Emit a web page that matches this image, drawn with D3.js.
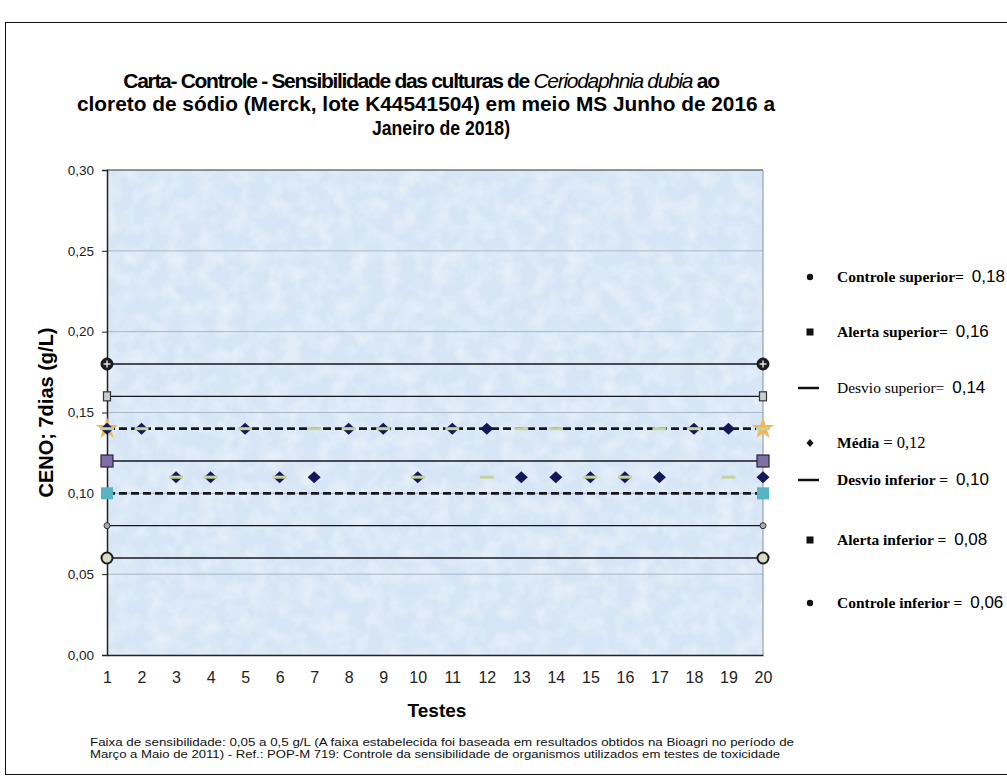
<!DOCTYPE html>
<html lang="pt">

<head>
    <meta charset="UTF-8">
    <title>Carta-Controle</title>
    <script src="https://cdn.jsdelivr.net/npm/d3@7"></script>

    <style>
        body { margin: 0; background: #fff; }
        svg { display: block; }
        .axis text { font-family: Arial, "Liberation Sans", sans-serif; fill: #222; }
        .axis path, .axis line { stroke: #222; }
    </style>
</head>

<body>

    <svg width="1007" height="778"></svg>

    <script>

        // dados
        var testes = [1, 2, 3, 4, 5, 6, 7, 8, 9, 10, 11, 12, 13, 14, 15, 16, 17, 18, 19, 20];
        var ceno = [0.14, 0.14, 0.11, 0.11, 0.14, 0.11, 0.11, 0.14, 0.14, 0.11,
                    0.14, 0.14, 0.11, 0.11, 0.11, 0.11, 0.11, 0.14, 0.14, 0.11];
        var cenoAnterior = [0.14, 0.14, 0.11, 0.11, 0.14, 0.11, 0.14, 0.14, 0.14, 0.11,
                            0.14, 0.11, 0.14, 0.14, 0.11, 0.11, 0.14, 0.14, 0.11, 0.14];
        var limiteNomes = ["Controle superior", "Alerta superior", "Desvio superior", "Média",
                           "Desvio inferior", "Alerta inferior", "Controle inferior"];
        var limiteValores = [0.18, 0.16, 0.14, 0.12, 0.10, 0.08, 0.06];
        var yTicks = [0, 0.05, 0.10, 0.15, 0.20, 0.25, 0.30];

        var svg = d3.select("svg");

        var x = d3.scaleLinear().domain([1, 20]).range([107, 763]);
        var y = d3.scaleLinear().domain([0, 0.30]).range([655, 170]);
        var fmt = function(v) { return d3.format(".2f")(v).replace(".", ","); };

        // moldura externa
        svg.append("rect")
            .attr("x", 5.5).attr("y", 22.5)
            .attr("width", 1010).attr("height", 752)
            .attr("fill", "none").attr("stroke", "#111");

        // textura do fundo
        var defs = svg.append("defs");
        var filt = defs.append("filter").attr("id", "mancha")
            .attr("x", 0).attr("y", 0).attr("width", 1).attr("height", 1);
        filt.append("feTurbulence").attr("type", "fractalNoise")
            .attr("baseFrequency", 0.06).attr("numOctaves", 3).attr("seed", 4);
        filt.append("feColorMatrix").attr("type", "matrix")
            .attr("values", "0 0 0 0 1  0 0 0 0 1  0 0 0 0 1  0 0 0 1.4 -0.55");
        filt.append("feComposite").attr("in2", "SourceGraphic").attr("operator", "in");

        svg.append("rect")
            .attr("x", x(1)).attr("y", y(0.30))
            .attr("width", x(20) - x(1)).attr("height", y(0) - y(0.30))
            .attr("fill", "#d7e6f6");
        svg.append("rect")
            .attr("x", x(1)).attr("y", y(0.30))
            .attr("width", x(20) - x(1)).attr("height", y(0) - y(0.30))
            .attr("fill", "#fff")
            .attr("opacity", 0.6)
            .attr("filter", "url(#mancha)");

        // grade
        svg.append("g")
            .selectAll("line")
            .data(yTicks.slice(1, 6))
            .enter().append("line")
            .attr("x1", x(1)).attr("x2", x(20))
            .attr("y1", function(d) { return y(d); })
            .attr("y2", function(d) { return y(d); })
            .attr("stroke", "#aab6c2").attr("stroke-width", 1);

        svg.append("line")
            .attr("x1", x(1)).attr("x2", x(20))
            .attr("y1", y(0.30)).attr("y2", y(0.30))
            .attr("stroke", "#333");
        svg.append("line")
            .attr("x1", x(20)).attr("x2", x(20))
            .attr("y1", y(0.30)).attr("y2", y(0))
            .attr("stroke", "#8a9099");

        // eixos
        var yAxis = svg.append("g")
            .attr("class", "axis")
            .attr("transform", "translate(" + x(1) + ",0)")
            .call(d3.axisLeft(y).tickValues(yTicks).tickFormat(fmt).tickSize(5).tickPadding(8));
        yAxis.selectAll("text").style("font-size", "13.5px");
        yAxis.select(".domain").attr("stroke-width", 1.5);

        var xAxis = svg.append("g")
            .attr("class", "axis")
            .attr("transform", "translate(0," + y(0) + ")")
            .call(d3.axisBottom(x).tickValues(testes).tickFormat(d3.format("d")).tickSize(0).tickPadding(17));
        xAxis.selectAll("text").style("font-size", "16px");
        xAxis.select(".domain").attr("stroke-width", 1.5);

        svg.append("text")
            .attr("transform", "translate(53," + y(0.15) + ") rotate(-90)")
            .attr("text-anchor", "middle")
            .style("font-family", "Arial, 'Liberation Sans', sans-serif")
            .style("font-weight", "bold").style("font-size", "20px")
            .text("CENO; 7dias (g/L)");

        svg.append("text")
            .attr("x", 437).attr("y", 717)
            .attr("text-anchor", "middle")
            .style("font-family", "Arial, 'Liberation Sans', sans-serif")
            .style("font-weight", "bold").style("font-size", "19px")
            .text("Testes");

        // linhas de limite
        var tracos = [null, null, "8,4", null, "8,4", null, null];
        var espessura = [1.6, 1.3, 2.6, 1.6, 2.6, 1.3, 1.6];
        svg.append("g")
            .selectAll("line")
            .data(limiteValores)
            .enter().append("line")
            .attr("x1", x(1)).attr("x2", x(20))
            .attr("y1", function(d) { return y(d); })
            .attr("y2", function(d) { return y(d); })
            .attr("stroke", "#15171f")
            .attr("stroke-width", function(d, i) { return espessura[i]; })
            .attr("stroke-dasharray", function(d, i) { return tracos[i]; });

        // marcadores nas pontas das linhas
        var pontas = svg.append("g");
        [1, 20].forEach(function(t) {
            var cx = x(t);
            // controle superior
            pontas.append("circle").attr("cx", cx).attr("cy", y(limiteValores[0])).attr("r", 6)
                .attr("fill", "#1c1c22").attr("stroke", "#111");
            pontas.append("path")
                .attr("d", "M" + (cx - 3.5) + "," + y(limiteValores[0]) + "h7M" + cx + "," + (y(limiteValores[0]) - 3.5) + "v7")
                .attr("stroke", "#e8e8e8").attr("stroke-width", 1.4);
            // alerta superior
            pontas.append("rect").attr("x", cx - 3.5).attr("y", y(limiteValores[1]) - 4.5)
                .attr("width", 7).attr("height", 9)
                .attr("fill", "#c9ccd0").attr("stroke", "#333").attr("stroke-width", 1.2);
            // desvio superior
            pontas.append("path")
                .attr("transform", "translate(" + cx + "," + y(limiteValores[2]) + ")")
                .attr("d", d3.symbol().type(d3.symbolStar).size(150))
                .attr("fill", "#f2b755");
            // media
            pontas.append("rect").attr("x", cx - 6).attr("y", y(limiteValores[3]) - 6)
                .attr("width", 12).attr("height", 12)
                .attr("fill", "#7e6fa6").attr("stroke", "#2a2440").attr("stroke-width", 1.2);
            // desvio inferior
            pontas.append("rect").attr("x", cx - 6).attr("y", y(limiteValores[4]) - 6)
                .attr("width", 12).attr("height", 12)
                .attr("fill", "#56b3c4");
            // alerta inferior
            pontas.append("circle").attr("cx", cx).attr("cy", y(limiteValores[5])).attr("r", 3)
                .attr("fill", "#aaa").attr("stroke", "#333");
            // controle inferior
            pontas.append("circle").attr("cx", cx).attr("cy", y(limiteValores[6])).attr("r", 5.5)
                .attr("fill", "#d9dcc4").attr("stroke", "#1c1c1c").attr("stroke-width", 2);
        });

        // valores dos testes
        var losango = "M0,-6L6.5,0L0,6L-6.5,0Z";
        svg.append("g")
            .selectAll("path")
            .data(testes)
            .enter().append("path")
            .attr("transform", function(d, i) { return "translate(" + x(d) + "," + y(ceno[i]) + ")"; })
            .attr("d", losango)
            .attr("fill", "#141858");

        svg.append("g")
            .selectAll("rect")
            .data(testes)
            .enter().append("rect")
            .attr("x", function(d) { return x(d) - 7; })
            .attr("y", function(d, i) { return y(cenoAnterior[i]) - 1.5; })
            .attr("width", 14).attr("height", 3)
            .attr("fill", "#c3d39b");

        // titulo
        var titulo = svg.append("g")
            .style("font-family", "Arial, 'Liberation Sans', sans-serif")
            .style("font-weight", "bold").style("font-size", "21px")
            .attr("text-anchor", "middle");
        var t1 = titulo.append("text").attr("x", 421).attr("y", 88)
            .style("letter-spacing", "-1.3px");
        t1.append("tspan").text("Carta- Controle - Sensibilidade das culturas de ");
        t1.append("tspan").style("font-style", "italic").style("font-weight", "normal").text("Ceriodaphnia dubia");
        t1.append("tspan").text(" ao");
        titulo.append("text").attr("x", 426).attr("y", 111)
            .attr("textLength", 698).attr("lengthAdjust", "spacingAndGlyphs")
            .text("cloreto de sódio (Merck, lote K44541504) em meio MS Junho de 2016 a");
        titulo.append("text").attr("x", 441).attr("y", 135)
            .attr("textLength", 138).attr("lengthAdjust", "spacingAndGlyphs")
            .text("Janeiro de 2018)");

        // legenda
        var legY = [277, 332, 388, 443, 480, 540, 603];
        var leg = svg.append("g");
        limiteNomes.forEach(function(nome, i) {
            var cy = legY[i];
            if (i === 0 || i === 6) {
                leg.append("circle").attr("cx", 810).attr("cy", cy).attr("r", 3.2).attr("fill", "#111");
            } else if (i === 1 || i === 5) {
                leg.append("rect").attr("x", 806.5).attr("y", cy - 3.5).attr("width", 7).attr("height", 7).attr("fill", "#111");
            } else if (i === 2 || i === 4) {
                leg.append("line").attr("x1", 798).attr("x2", 819).attr("y1", cy).attr("y2", cy)
                    .attr("stroke", "#111").attr("stroke-width", 2.5);
            } else {
                leg.append("path").attr("transform", "translate(810," + cy + ")")
                    .attr("d", "M0,-4L3.5,0L0,4L-3.5,0Z").attr("fill", "#111");
            }
            var txt = leg.append("text").attr("x", 837).attr("y", cy + 5);
            if (i === 3) {
                txt.append("tspan")
                    .style("font-family", "'Liberation Serif', 'Times New Roman', serif")
                    .style("font-weight", "bold").style("font-size", "15.5px")
                    .text(nome);
                txt.append("tspan")
                    .style("font-family", "'Liberation Serif', 'Times New Roman', serif")
                    .style("font-size", "16.5px")
                    .text(" = " + fmt(limiteValores[i]));
            } else {
                txt.append("tspan")
                    .style("font-family", "'Liberation Serif', 'Times New Roman', serif")
                    .style("font-weight", i === 2 ? "normal" : "bold").style("font-size", "15.5px")
                    .text(nome + (i < 3 ? "= " : " = "));
                txt.append("tspan")
                    .attr("dx", 4)
                    .style("font-family", "Arial, 'Liberation Sans', sans-serif")
                    .style("font-size", "17px")
                    .text(fmt(limiteValores[i]));
            }
        });

        // rodape
        var rodape = svg.append("g")
            .style("font-family", "Arial, 'Liberation Sans', sans-serif")
            .style("font-size", "11px").style("fill", "#111");
        rodape.append("text").attr("x", 90).attr("y", 746)
            .attr("textLength", 704).attr("lengthAdjust", "spacingAndGlyphs")
            .text("Faixa de sensibilidade: 0,05 a 0,5 g/L (A faixa estabelecida foi baseada em resultados obtidos na Bioagri no período de");
        rodape.append("text").attr("x", 90).attr("y", 758)
            .attr("textLength", 690).attr("lengthAdjust", "spacingAndGlyphs")
            .text("Março a Maio de 2011) - Ref.: POP-M 719: Controle da sensibilidade de organismos utilizados em testes de toxicidade");

    </script>

</body>

</html>
